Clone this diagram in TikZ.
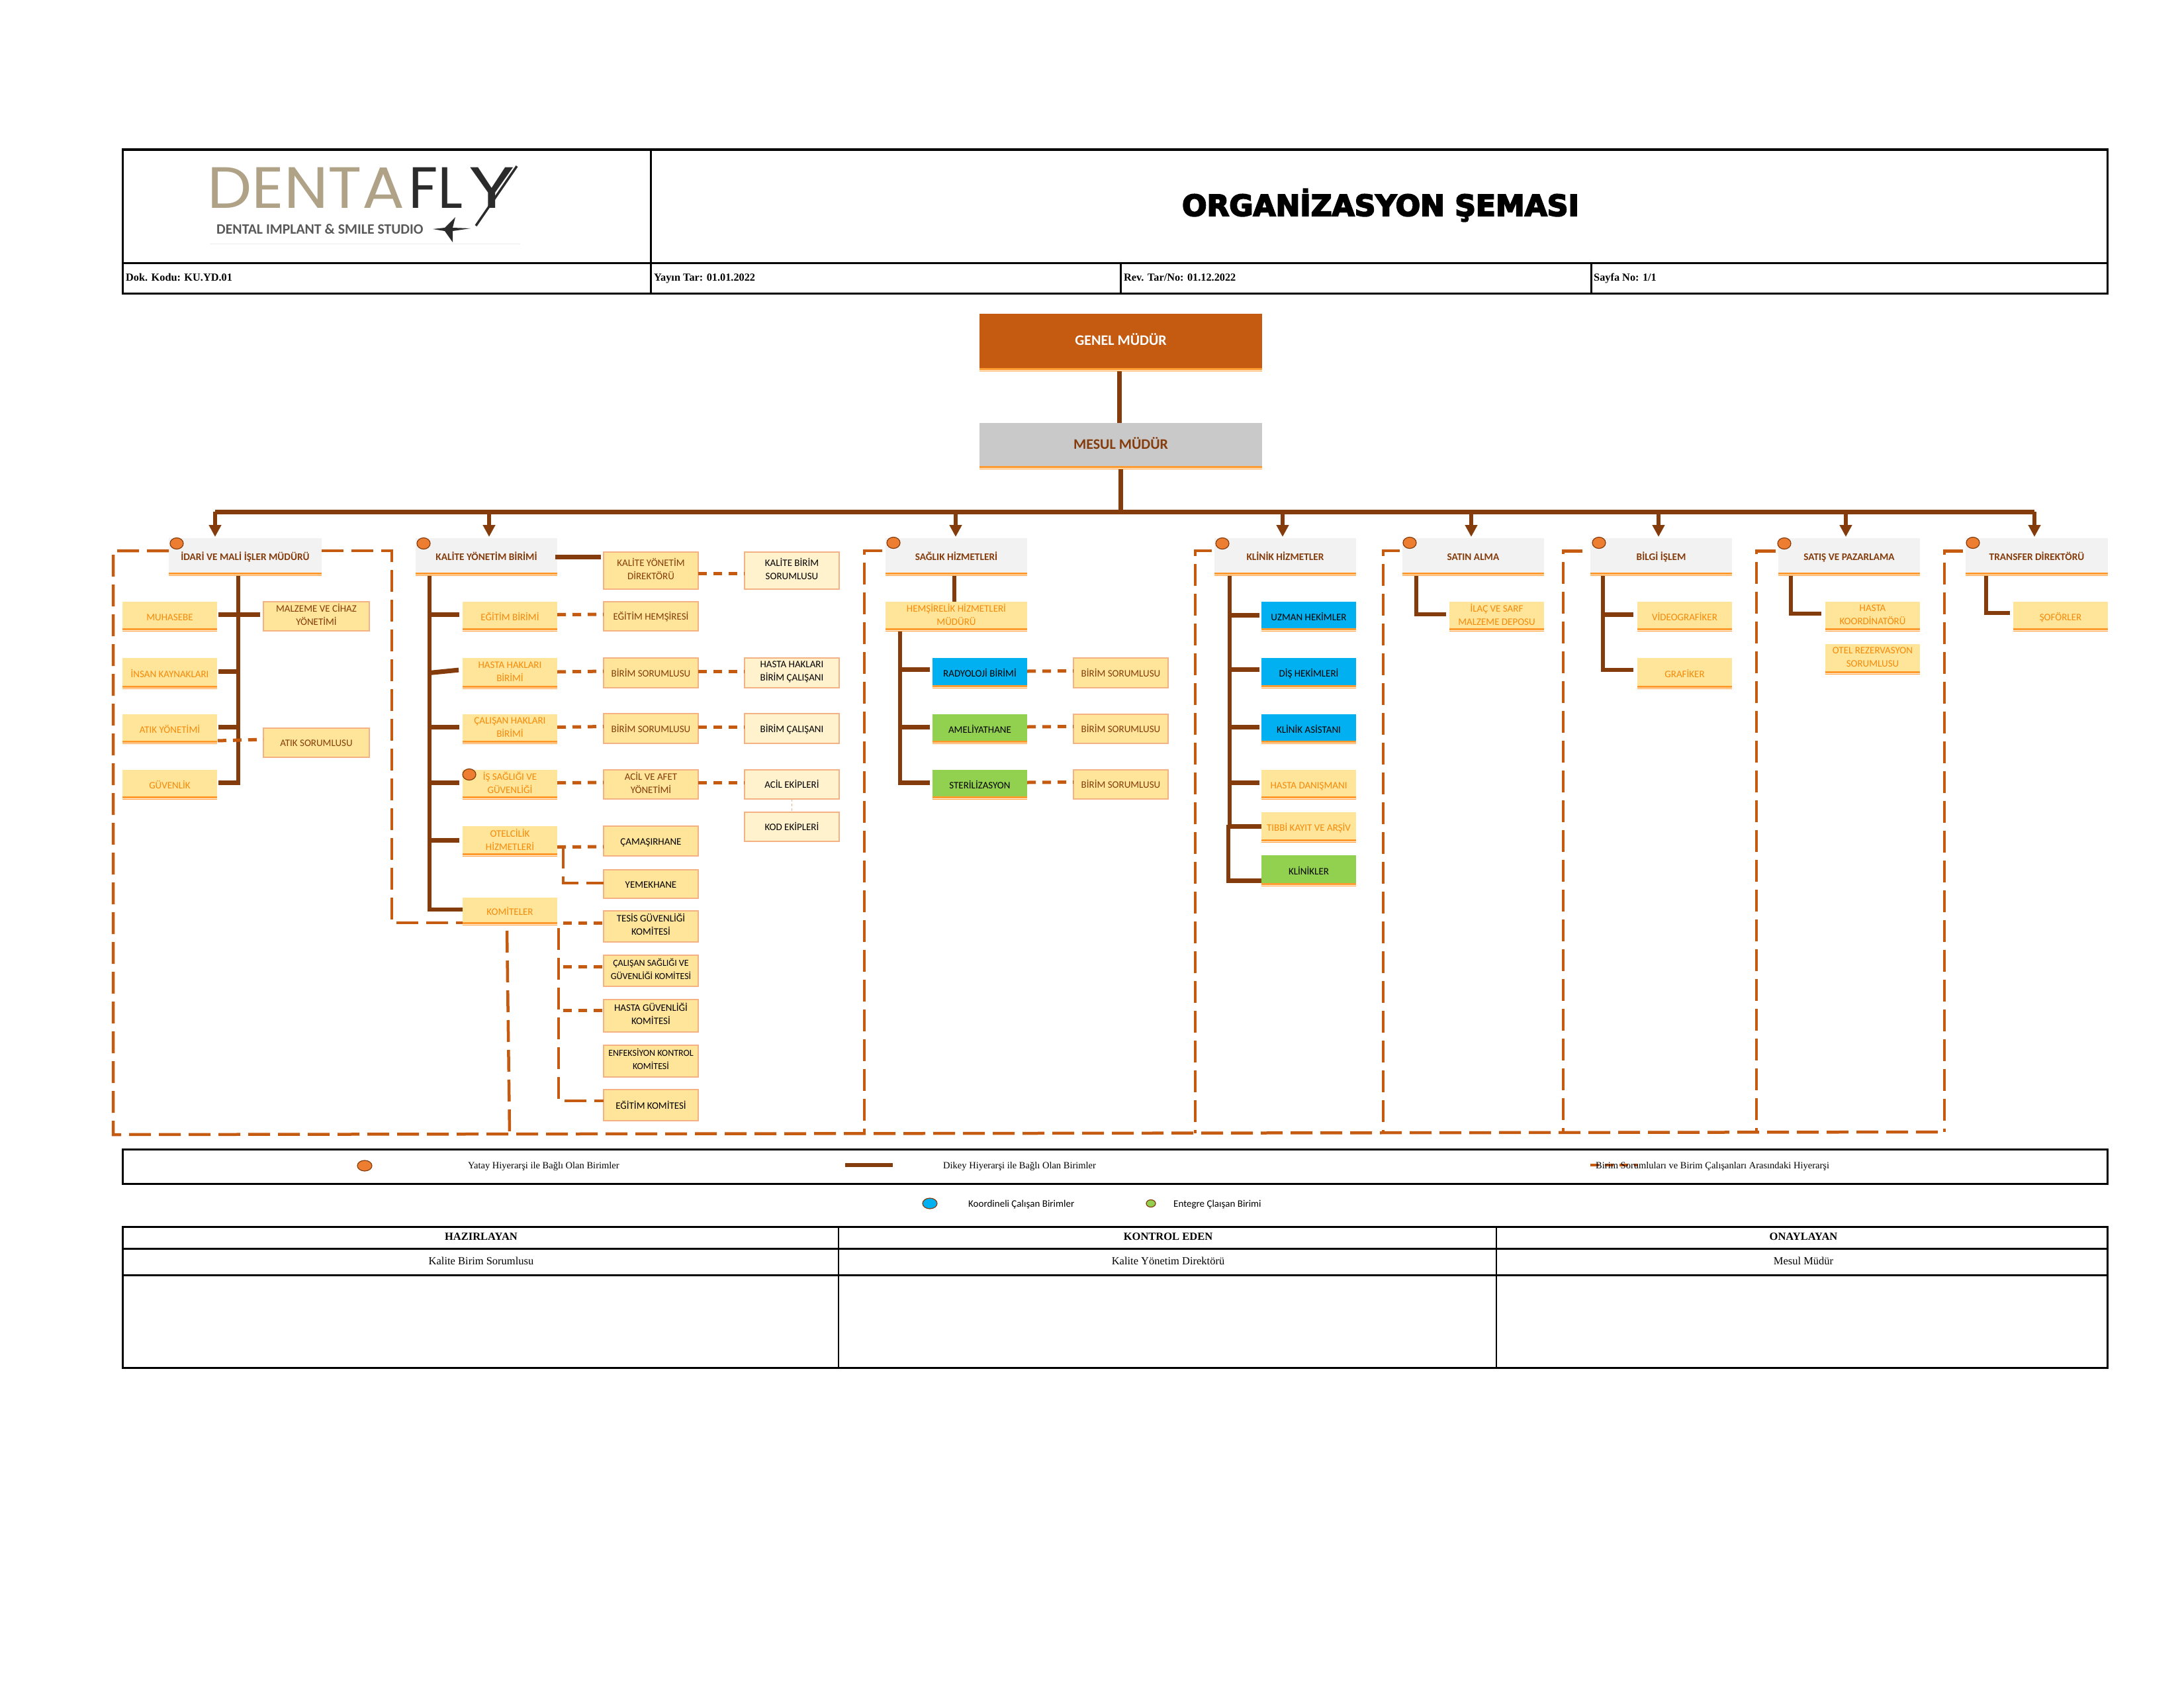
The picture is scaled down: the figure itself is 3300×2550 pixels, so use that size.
\documentclass[tikz,border=0pt]{standalone}
\usepackage{fontspec}
\usepackage{graphicx}
\usetikzlibrary{shapes.geometric,arrows.meta}
\setmainfont{Liberation Serif}
\newfontfamily\carl{Carlito}
\newfontfamily\popl{Poppins}
\newfontfamily\ttlf[BoldFeatures={FakeBold=4.5}]{DejaVu Sans}
\definecolor{bbrown}{HTML}{843C0C}
\definecolor{dorange}{HTML}{C55A11}
\definecolor{tangerine}{HTML}{F58A0B}
\definecolor{bandc}{HTML}{FF9A2E}
\definecolor{ylw}{HTML}{FFE599}
\definecolor{pale}{HTML}{FFF2CC}
\definecolor{edge}{HTML}{F4B183}
\definecolor{ltgray}{HTML}{F2F2F2}
\definecolor{mgray}{HTML}{C9C9C9}
\definecolor{skyb}{HTML}{00B0F0}
\definecolor{leaf}{HTML}{92D050}
\definecolor{circ}{HTML}{ED7D31}
\definecolor{taupe}{HTML}{AFA287}
\definecolor{inky}{HTML}{2B2B2B}
\tikzset{
  unitbase/.style={inner sep=0pt,outer sep=0pt,align=center,font=\carl\fontsize{15}{20}\selectfont,
     execute at begin node={\rule{0pt}{.85\baselineskip}},execute at end node=\strut},
  bandline/.style={path picture={
     \fill[bandc] (path picture bounding box.south west) rectangle ([yshift=5pt]path picture bounding box.south east);
     \fill[white] ([yshift=1.4pt]path picture bounding box.south west) rectangle ([yshift=2.3pt]path picture bounding box.south east);}},
  hdbox/.style={unitbase,fill=ltgray,bandline,text=bbrown,font=\carl\bfseries\fontsize{15.3}{18}\selectfont},
  ybar/.style={unitbase,fill=ylw,bandline,text=tangerine},
  ybox/.style={unitbase,fill=ylw,draw=edge,line width=2pt,text=bbrown},
  kbox/.style={unitbase,fill=ylw,draw=edge,line width=2pt,text=black},
  komfont/.style={font=\carl\fontsize{14}{20}\selectfont},
  pbox/.style={unitbase,fill=pale,draw=edge,line width=2pt,text=black},
  bluebox/.style={unitbase,fill=skyb,bandline,text=black},
  greenbox/.style={unitbase,fill=leaf,bandline,text=black},
  topbox/.style={unitbase,fill=dorange,bandline,text=white,font=\carl\bfseries\fontsize{22}{24}\selectfont},
  midbox/.style={unitbase,fill=mgray,bandline,text=bbrown,font=\carl\bfseries\fontsize{22}{24}\selectfont},
  marker/.style={ellipse,draw=bbrown,line width=1.2pt,fill=circ,minimum width=20pt,minimum height=17pt,inner sep=0pt},
  stemline/.style={draw=bbrown,line width=6.5pt},
  armline/.style={draw=bbrown,line width=7pt},
  downarrow/.style={draw=bbrown,line width=5.5pt,-{Triangle[length=18pt,width=18pt]},shorten >=2pt},
  framedash/.style={draw=dorange,line width=4.5pt,dash pattern=on 33pt off 12pt},
  linkdash/.style={draw=dorange,line width=5pt,dash pattern=on 13pt off 10pt},
  thinlink/.style={draw=edge,line width=1pt,dash pattern=on 4pt off 3pt},
  rule/.style={draw=black,line width=3pt},
  thinrule/.style={draw=black,line width=2pt},
  cell/.style={inner sep=0pt,font=\fontsize{16.5}{19}\selectfont},
  cellb/.style={inner sep=0pt,font=\bfseries\fontsize{16.5}{19}\selectfont},
  doc/.style={inner sep=0pt,anchor=base west,font=\bfseries\fontsize{16.3}{19}\selectfont},
  legtext/.style={inner sep=0pt,anchor=base west,font=\fontsize{14.5}{17}\selectfont},
  legsans/.style={inner sep=0pt,anchor=base west,font=\carl\fontsize{15}{18}\selectfont},
  logotext/.style={inner sep=0pt,anchor=base west,font=\popl\fontsize{88}{90}\selectfont},
}
\newcommand\unitnode[7]{%
  \pgfmathsetmacro\ucx{(#3+#5)/2}\pgfmathsetmacro\ucy{(#4+#6)/2}%
  \pgfmathsetmacro\uw{#5-#3}\pgfmathsetmacro\uh{#6-#4}%
  \node[#2,minimum width=\uw pt,minimum height=\uh pt] (#1) at (\ucx,\ucy) {#7};}
% arm: from node anchor #2 to the trunk #1, #3 = vertical shift in pt, #4 = gap beside the node
\newcommand\armto[4]{\draw[armline,shorten <=#4pt] ([yshift=#3pt]#2) -- ([yshift=#3pt]#1|-#2);}
\newcommand\dlink[3]{\draw[linkdash] ([yshift=#3pt]#1.east) -- ([yshift=#3pt]#2.west);}
\newcommand\dfrom[3]{\draw[linkdash] ([yshift=#3pt]#1|-#2.west) -- ([yshift=#3pt]#2.west);}
\begin{document}
\begin{tikzpicture}[x=1pt,y=-1pt]
\useasboundingbox (0,0) rectangle (3300,2550);
\fill[white] (0,0) rectangle (3300,2550);

% ---------- header table
\draw[rule] (185,226) rectangle (3184,443);
\draw[rule] (185,397) -- (3184,397);
\draw[rule] (983,226) -- (983,443);
\draw[rule] (1693,397) -- (1693,443);
\draw[rule] (2404,397) -- (2404,443);
\node[inner sep=0pt,font=\ttlf\bfseries\fontsize{44}{48}\selectfont] (title) at (2086,310) {ORGANİZASYON ŞEMASI};
\node[doc] (dok) at (190,424) {Dok. Kodu: KU.YD.01};
\node[doc] (yay) at (988,424) {Yayın Tar: 01.01.2022};
\node[doc] (rev) at (1698,424) {Rev. Tar/No: 01.12.2022};
\node[doc] (say) at (2408,424) {Sayfa No: 1/1};

% ---------- logo
\node[logotext,text=taupe] (logoa) at (313,314) {\scalebox{1.08}[1]{DENTA}};
\node[logotext,text=inky] (logob) at (617,314) {FL};
\node[logotext,text=inky] (logoc) at (708,314) {\scalebox{1.35}[1]{Y}};
\node[inner sep=0pt,anchor=west,text=black!65,font=\carl\bfseries\fontsize{21.7}{24}\selectfont] (tag) at (327,346) {DENTAL IMPLANT \& SMILE STUDIO};
\coordinate (ytop) at (781,251);
\coordinate (ytail) at (719,341);
\draw[inky,line width=3.5pt] (ytop) -- (ytail);
\fill[inky] (654,346) -- (672,344) -- (688,328) -- (684,344) -- (711,345) -- (684,349) -- (684,366) -- (672,349) -- cycle;
\draw[black!8,line width=1pt] (317,368) -- (786,368);

% ---------- top boxes
\unitnode{genel}{topbox}{1480}{474}{1907}{561}{\raisebox{2.5pt}{GENEL MÜDÜR}}
\unitnode{mesul}{midbox}{1480}{639}{1907}{709}{\raisebox{2pt}{MESUL MÜDÜR}}

% ---------- department heads
\unitnode{idari}{hdbox}{255}{813}{486}{870}{İDARİ VE MALİ İŞLER MÜDÜRÜ}
\unitnode{kalite}{hdbox}{628}{813}{842}{870}{KALİTE YÖNETİM BİRİMİ}
\unitnode{saglik}{hdbox}{1338}{813}{1552}{870}{SAĞLIK HİZMETLERİ}
\unitnode{klinik}{hdbox}{1835}{813}{2049}{870}{KLİNİK HİZMETLER}
\unitnode{satin}{hdbox}{2119}{813}{2333}{870}{SATIN ALMA}
\unitnode{bilgi}{hdbox}{2403}{813}{2617}{870}{BİLGİ İŞLEM}
\unitnode{satis}{hdbox}{2687}{813}{2901}{870}{SATIŞ VE PAZARLAMA}
\unitnode{transfer}{hdbox}{2970}{813}{3185}{870}{TRANSFER DİREKTÖRÜ}

% ---------- idari column
\unitnode{muhasebe}{ybar}{185}{909}{328}{954}{MUHASEBE}
\unitnode{malzeme}{ybox}{398}{909}{558}{953}{MALZEME VE CİHAZ\\YÖNETİMİ}
\unitnode{insan}{ybar}{185}{994}{328}{1041}{İNSAN KAYNAKLARI}
\unitnode{atik}{ybar}{185}{1079}{328}{1124}{ATIK YÖNETİMİ}
\unitnode{atiksor}{ybox}{398}{1100}{558}{1144}{ATIK SORUMLUSU}
\unitnode{guvenlik}{ybar}{185}{1163}{328}{1208}{GÜVENLİK}

% ---------- kalite column
\unitnode{kydir}{ybox}{912}{834}{1055}{890}{KALİTE YÖNETİM\\DİREKTÖRÜ}
\unitnode{kbs}{pbox}{1125}{834}{1268}{890}{KALİTE BİRİM\\SORUMLUSU}
\unitnode{egitim}{ybar}{699}{909}{842}{954}{EĞİTİM BİRİMİ}
\unitnode{hemsire}{ybox}{912}{909}{1055}{953}{EĞİTİM HEMŞİRESİ}
\unitnode{hasta}{ybar}{699}{994}{842}{1041}{HASTA HAKLARI\\BİRİMİ}
\unitnode{hsor}{ybox}{912}{994}{1055}{1039}{BİRİM SORUMLUSU}
\unitnode{hcal}{pbox}{1125}{994}{1268}{1039}{HASTA HAKLARI\\BİRİM ÇALIŞANI}
\unitnode{calisan}{ybar}{699}{1079}{842}{1124}{ÇALIŞAN HAKLARI\\BİRİMİ}
\unitnode{csor}{ybox}{912}{1078}{1055}{1123}{BİRİM SORUMLUSU}
\unitnode{ccal}{pbox}{1125}{1078}{1268}{1123}{BİRİM ÇALIŞANI}
\unitnode{issag}{ybar}{699}{1163}{842}{1208}{İŞ SAĞLIĞI VE\\GÜVENLİĞİ}
\unitnode{acilaf}{ybox}{912}{1163}{1055}{1207}{ACİL VE AFET\\YÖNETİMİ}
\unitnode{acilek}{pbox}{1125}{1163}{1268}{1207}{ACİL EKİPLERİ}
\unitnode{kodek}{pbox}{1125}{1227}{1268}{1271}{KOD EKİPLERİ}
\unitnode{otel}{ybar}{699}{1248}{842}{1294}{OTELCİLİK\\HİZMETLERİ}
\unitnode{cama}{kbox}{912}{1248}{1055}{1293}{ÇAMAŞIRHANE}
\unitnode{yemek}{kbox}{912}{1314}{1055}{1357}{YEMEKHANE}
\unitnode{komite}{ybar}{699}{1356}{842}{1398}{KOMİTELER}
\unitnode{tesis}{kbox}{912}{1376}{1055}{1423}{TESİS GÜVENLİĞİ\\KOMİTESİ}
\unitnode{csag}{kbox,komfont}{912}{1443}{1055}{1490}{ÇALIŞAN SAĞLIĞI VE\\GÜVENLİĞİ KOMİTESİ}
\unitnode{hguv}{kbox}{912}{1510}{1055}{1559}{HASTA GÜVENLİĞİ\\KOMİTESİ}
\unitnode{enf}{kbox,komfont}{912}{1579}{1055}{1627}{ENFEKSİYON KONTROL\\KOMİTESİ}
\unitnode{ekom}{kbox}{912}{1646}{1055}{1693}{EĞİTİM KOMİTESİ}

% ---------- saglik column
\unitnode{hemmud}{ybar}{1338}{909}{1552}{954}{HEMŞİRELİK HİZMETLERİ\\MÜDÜRÜ}
\unitnode{rad}{bluebox}{1409}{994}{1552}{1040}{RADYOLOJİ BİRİMİ}
\unitnode{ame}{greenbox}{1409}{1079}{1552}{1124}{AMELİYATHANE}
\unitnode{ste}{greenbox}{1409}{1163}{1552}{1208}{STERİLİZASYON}
\unitnode{rsor}{ybox}{1622}{994}{1765}{1039}{BİRİM SORUMLUSU}
\unitnode{asor}{ybox}{1622}{1079}{1765}{1123}{BİRİM SORUMLUSU}
\unitnode{ssor}{ybox}{1622}{1163}{1765}{1207}{BİRİM SORUMLUSU}

% ---------- klinik column
\unitnode{uzman}{bluebox}{1906}{909}{2049}{954}{UZMAN HEKİMLER}
\unitnode{dis}{bluebox}{1906}{994}{2049}{1040}{DİŞ HEKİMLERİ}
\unitnode{asist}{bluebox}{1906}{1079}{2049}{1124}{KLİNİK ASİSTANI}
\unitnode{danis}{ybar}{1906}{1163}{2049}{1208}{HASTA DANIŞMANI}
\unitnode{tibbi}{ybar}{1906}{1227}{2049}{1273}{TIBBİ KAYIT VE ARŞİV}
\unitnode{klinikler}{greenbox}{1906}{1292}{2049}{1339}{KLİNİKLER}

% ---------- remaining columns
\unitnode{ilac}{ybar}{2190}{909}{2333}{954}{İLAÇ VE SARF\\MALZEME DEPOSU}
\unitnode{video}{ybar}{2474}{909}{2617}{954}{VİDEOGRAFİKER}
\unitnode{graf}{ybar}{2474}{994}{2617}{1041}{GRAFİKER}
\unitnode{koord}{ybar}{2758}{909}{2901}{954}{HASTA\\KOORDİNATÖRÜ}
\unitnode{rezerv}{ybar}{2758}{973}{2901}{1019}{OTEL REZERVASYON\\SORUMLUSU}
\unitnode{sofor}{ybar}{3042}{909}{3185}{954}{ŞOFÖRLER}

% ---------- named junctions
\coordinate (busL) at (325,773);
\coordinate (busR) at (3074,773);
\coordinate (drK) at (739,773);
\coordinate (drS) at (1444,773);
\coordinate (drKl) at (1938,773);
\coordinate (drSa) at (2223,773);
\coordinate (drB) at (2506,773);
\coordinate (drSs) at (2789,773);
\coordinate (tI) at (360,870);
\coordinate (tK) at (649,870);
\coordinate (tH) at (1360,954);
\coordinate (tKl) at (1858,870);
\coordinate (tKl2) at (1856,1246);
\coordinate (tS) at (2140,870);
\coordinate (tB) at (2422,870);
\coordinate (tSs) at (2706,870);
\coordinate (tT) at (3001,870);
\coordinate (tO) at (851,1279);
\coordinate (tKm) at (851,1402);
\coordinate (tKmA) at (844,1402);
\coordinate (tKmB) at (844,1663);
\coordinate (fR) at (592,1394);
\coordinate (fLb) at (171,1714);
\coordinate (fEnd) at (2938,1710);
\coordinate (vA) at (766,1406);
\coordinate (vAb) at (770,1712);
\coordinate (vSb) at (1306,1712);
\coordinate (vKb) at (1806,1712);
\coordinate (vSab) at (2090,1711);
\coordinate (vBb) at (2362,1711);
\coordinate (vSsb) at (2654,1710);

% ---------- frames
\draw[framedash] ([yshift=9.5pt]idari.west) -| (fLb) -- (fEnd);
\draw[framedash] ([yshift=9.5pt]idari.east) -| (fR) -- ([yshift=-17pt]komite.west);
\draw[framedash] (vA) -- (vAb);
\draw[framedash,shorten <=5pt] ([yshift=9.5pt]saglik.west) -| (vSb);
\draw[framedash,shorten <=4pt] ([yshift=9.5pt]klinik.west) -| (vKb);
\draw[framedash,shorten <=4pt] ([yshift=9.5pt]satin.west) -| (vSab);
\draw[framedash,shorten <=12pt] ([yshift=9pt]bilgi.west) -| (vBb);
\draw[framedash,shorten <=4pt] ([yshift=9pt]satis.west) -| (vSsb);
\draw[framedash,shorten <=4pt] ([yshift=9pt]transfer.west) -| (fEnd);

% ---------- solid hierarchy
\draw[stemline] ([xshift=-2pt]genel.south) -- ([xshift=-2pt]mesul.north);
\draw[stemline] (mesul.south) -- (mesul.south|-busL);
\draw[draw=bbrown,line width=7pt] (busL) -- (busR);
\draw[downarrow] (busL) -- (busL|-idari.north);
\draw[downarrow] (drK) -- (drK|-kalite.north);
\draw[downarrow] (drS) -- (drS|-saglik.north);
\draw[downarrow] (drKl) -- (drKl|-klinik.north);
\draw[downarrow] (drSa) -- (drSa|-satin.north);
\draw[downarrow] (drB) -- (drB|-bilgi.north);
\draw[downarrow] (drSs) -- (drSs|-satis.north);
\draw[downarrow] (busR) -- (busR|-transfer.north);

% idari
\draw[stemline] (tI) -- (tI|-guvenlik.east);
\armto{tI}{muhasebe.east}{3.5}{2}
\armto{tI}{malzeme.west}{3}{5}
\armto{tI}{insan.east}{3.5}{2}
\armto{tI}{atik.east}{3.5}{2}
\armto{tI}{guvenlik.east}{3.5}{2}
\draw[linkdash,shorten <=1pt] ([yshift=5pt]atik.south east) -- ([yshift=5pt]atiksor.west);

% kalite
\draw[stemline] (tK) |- ([yshift=3pt]komite.west);
\draw[armline,shorten >=4pt] ([xshift=-3pt]kalite.east) -- (kydir.west|-kalite.east);
\armto{tK}{egitim.west}{3.5}{5}
\draw[armline,shorten <=6pt] ([yshift=6pt]hasta.west) -- ([yshift=1pt]tK|-hasta.west);
\armto{tK}{calisan.west}{3}{5}
\armto{tK}{issag.west}{3.5}{5}
\armto{tK}{otel.west}{2}{5}
\dlink{kydir}{kbs}{-4}
\dlink{egitim}{hemsire}{3}
\dlink{hasta}{hsor}{2.5}
\dlink{hsor}{hcal}{2.5}
\dlink{calisan}{csor}{3}
\dlink{csor}{ccal}{2.5}
\dlink{issag}{acilaf}{3}
\dlink{acilaf}{acilek}{3}
\draw[thinlink] (acilek) -- (kodek);
\dlink{otel}{cama}{-8.5}
\draw[framedash] (tO) |- ([yshift=1.5pt]yemek.west);
\draw[framedash] (tKmA) -- (tKmB) -- ([yshift=6.5pt]ekom.west);
\dfrom{tKm}{tesis}{5.5}
\dfrom{tKm}{csag}{6.5}
\dfrom{tKm}{hguv}{8.5}

% saglik
\draw[stemline] ([xshift=-3pt]saglik.south) -- ([xshift=-3pt]hemmud.north);
\draw[stemline] (tH) |- ([yshift=3pt,xshift=-4pt]ste.west);
\armto{tH}{rad.west}{6}{4}
\armto{tH}{ame.west}{3.5}{4}
\dlink{rad}{rsor}{3}
\dlink{ame}{asor}{3.5}
\dlink{ste}{ssor}{3.5}

% klinik
\draw[stemline] (tKl) -- (tKl|-tKl2);
\draw[stemline] (tKl2) |- ([yshift=-15pt]klinikler.west);
\armto{tKl}{uzman.west}{2.5}{3}
\armto{tKl}{dis.west}{6}{3}
\armto{tKl}{asist.west}{3.5}{3}
\armto{tKl}{danis.west}{3.5}{3}
\armto{tKl2}{tibbi.west}{2}{0}
\armto{tKl2}{klinikler.west}{-15}{0}

% others
\draw[stemline] (tS) |- ([yshift=3.5pt,xshift=-5pt]ilac.west);
\draw[stemline] (tB) |- ([yshift=5.5pt,xshift=-6pt]graf.west);
\armto{tB}{video.west}{3.5}{6}
\draw[stemline] (tSs) |- ([yshift=4.5pt,xshift=-6pt]koord.west);
\draw[stemline] (tT) |- ([yshift=5.5pt,xshift=-5pt]sofor.west);

% ---------- markers
\node[marker] (m1) at (267,821) {};
\node[marker] (m2) at (640,821) {};
\node[marker] (m3) at (709,1170) {};
\node[marker] (m4) at (1350,820) {};
\node[marker] (m5) at (1847,821) {};
\node[marker] (m6) at (2130,820) {};
\node[marker] (m7) at (2416,820) {};
\node[marker] (m8) at (2696,821) {};
\node[marker] (m9) at (2981,820) {};

% ---------- legend
\draw[rule] (185,1736) rectangle (3184,1788);
\node[marker,minimum width=22pt,minimum height=16pt] (lg1) at (551,1761) {};
\node[legtext] (lt1) at (707,1765) {Yatay Hiyerarşi ile Bağlı Olan Birimler};
\coordinate (lgb1) at (1277,1760);
\coordinate (lgb2) at (1349,1760);
\draw[stemline] (lgb1) -- (lgb2);
\node[legtext] (lt2) at (1425,1765) {Dikey Hiyerarşi ile Bağlı Olan Birimler};
\coordinate (lgd1) at (2403,1760);
\coordinate (lgd2) at (2474,1760);
\draw[draw=dorange,line width=3.5pt,dash pattern=on 13pt off 9pt] (lgd1) -- (lgd2);
\node[legtext] (lt3) at (2411,1765) {Birim Sorumluları ve Birim Çalışanları Arasındaki Hiyerarşi};
\node[marker,fill=skyb,minimum width=22pt,minimum height=16pt] (lg2) at (1405,1818) {};
\node[legsans] (lt4) at (1463,1823) {Koordineli Çalışan Birimler};
\node[marker,fill=leaf,minimum width=14pt,minimum height=11pt] (lg3) at (1739,1818) {};
\node[legsans] (lt5) at (1773,1823) {Entegre Çlaışan Birimi};

% ---------- signature table
\draw[rule] (185,1853) rectangle (3184,2066);
\draw[rule] (185,1886) -- (3184,1886);
\draw[rule] (185,1926) -- (3184,1926);
\draw[thinrule] (1267,1853) -- (1267,2066);
\draw[thinrule] (2261,1853) -- (2261,2066);
\node[cellb,anchor=base] (s1) at (727,1873) {HAZIRLAYAN};
\node[cellb,anchor=base] (s2) at (1765,1873) {KONTROL EDEN};
\node[cellb,anchor=base] (s3) at (2725,1873) {ONAYLAYAN};
\node[cell,anchor=base] (s4) at (727,1910) {Kalite Birim Sorumlusu};
\node[cell,anchor=base] (s5) at (1765,1910) {Kalite Yönetim Direktörü};
\node[cell,anchor=base] (s6) at (2725,1910) {Mesul Müdür};
\end{tikzpicture}
\end{document}
